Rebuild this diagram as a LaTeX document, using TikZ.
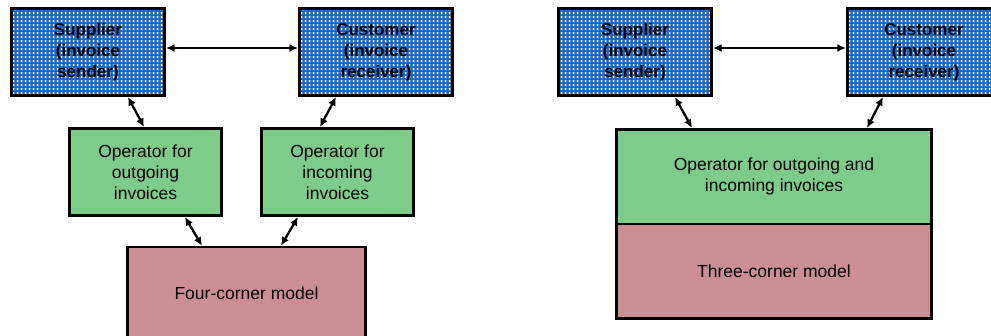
\documentclass[tikz,border=0pt]{standalone}
\usepackage{fontspec}
\setmainfont{Liberation Sans}
\usetikzlibrary{patterns.meta,arrows.meta}

\definecolor{dotblue}{RGB}{22,102,206}
\definecolor{opgreen}{RGB}{126,204,137}
\definecolor{modelpink}{RGB}{203,142,150}

% white square dots on a regular grid
\tikzdeclarepattern{
  name=whitegrid,
  type=uncolored,
  bounding box={(0pt,0pt) and (4pt,4.3pt)},
  tile size={(4pt,4.3pt)},
  code={\fill (1pt,1.1pt) rectangle (3pt,3.2pt);}
}

\begin{document}
\begin{tikzpicture}[x=1pt,y=-1pt,
  party/.style={draw, line width=2.6pt, preaction={fill=dotblue},
    pattern=whitegrid, pattern color=white,
    minimum width=153.5pt, minimum height=87.5pt, inner sep=0pt,
    align=center, font=\fontsize{17}{21}\selectfont\bfseries},
  opbox/.style={draw, line width=2.6pt, fill=opgreen, inner sep=0pt,
    align=center, font=\fontsize{17.5}{21}\selectfont},
  modelbox/.style={draw, line width=2.6pt, fill=modelpink, inner sep=0pt,
    align=center, font=\fontsize{17.5}{21}\selectfont},
  link/.style={line width=2.3pt,
    {Latex[length=8.5pt,width=8pt]}-{Latex[length=8.5pt,width=8pt]}}
]
\path[use as bounding box, clip] (0,0) rectangle (991,335);

% ---- four-corner model ----
\node[party] (sup) at (88,52) {Supplier\\(invoice\\sender)};
\node[party] (cus) at (376,52) {Customer\\(invoice\\receiver)};
\node[opbox, minimum width=152.5pt, minimum height=87.5pt] (opout) at (145.5,172)
  {Operator for\\outgoing\\invoices};
\node[opbox, minimum width=152.5pt, minimum height=87.5pt] (opin) at (337.5,172)
  {Operator for\\incoming\\invoices};
\node[modelbox, minimum width=238.5pt, minimum height=93pt] (four) at (246.5,293.5)
  {Four-corner model};

\draw[link] ([yshift=4pt]sup.east) -- ([yshift=4pt]cus.west);
\draw[link] ([xshift=40pt]sup.south) -- ([xshift=-1.5pt]opout.north);
\draw[link] ([xshift=-40pt]cus.south) -- ([xshift=-17.5pt]opin.north);
\draw[link] ([xshift=39.5pt]opout.south) -- ([xshift=-44.5pt]four.north);
\draw[link] ([xshift=-39.5pt]opin.south) -- ([xshift=34.5pt]four.north);

% ---- three-corner model ----
\node[party] (sup2) at (635,52) {Supplier\\(invoice\\sender)};
\node[party] (cus2) at (924,52) {Customer\\(invoice\\receiver)};
\node[opbox, minimum width=315.5pt, minimum height=94.75pt] (opboth) at (774,176.6)
  {Operator for outgoing and\\incoming invoices};
\node[modelbox, minimum width=315.5pt, minimum height=94.75pt] (three) at (774,271.4)
  {Three-corner model};

\draw[link] ([yshift=4pt]sup2.east) -- ([yshift=4pt]cus2.west);
\draw[link] ([xshift=40pt]sup2.south) -- ([xshift=-82pt]opboth.north);
\draw[link] ([xshift=-41pt]cus2.south) -- ([xshift=93pt]opboth.north);
\end{tikzpicture}
\end{document}
